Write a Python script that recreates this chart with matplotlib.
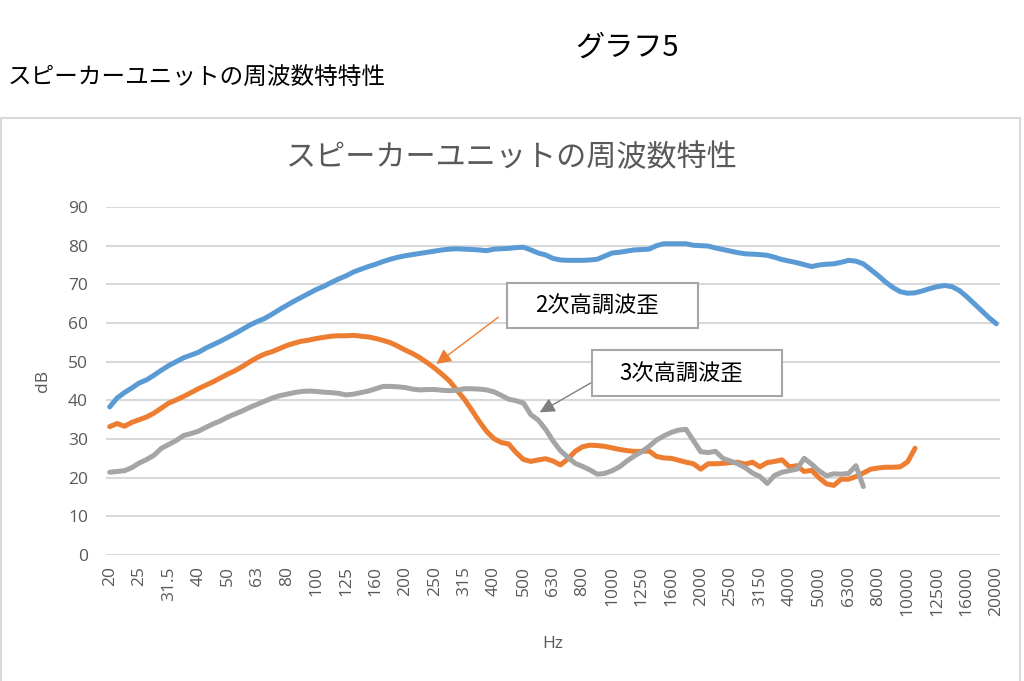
import numpy as np
import matplotlib
matplotlib.use("Agg")
import matplotlib.pyplot as plt
from matplotlib.patches import Rectangle

# 1/3 octave band labels shown on the category axis
freq_labels = ['20', '25', '31.5', '40', '50', '63', '80', '100', '125', '160',
               '200', '250', '315', '400', '500', '630', '800', '1000', '1250',
               '1600', '2000', '2500', '3150', '4000', '5000', '6300', '8000',
               '10000', '12500', '16000', '20000']
points_per_label = 4

# fundamental response (dB)
fundamental = [38.3, 40.6, 42.0, 43.2, 44.5, 45.3, 46.5, 47.8, 49.0, 50.0,
               51.0, 51.7, 52.4, 53.5, 54.4, 55.3, 56.3, 57.3, 58.4, 59.5,
               60.4, 61.2, 62.3, 63.5, 64.6, 65.7, 66.7, 67.7, 68.7, 69.5,
               70.5, 71.4, 72.2, 73.2, 73.9, 74.6, 75.2, 75.9, 76.5, 77.0,
               77.4, 77.7, 78.0, 78.3, 78.6, 78.9, 79.1, 79.2, 79.1, 79.0,
               78.9, 78.7, 79.1, 79.2, 79.3, 79.5, 79.6, 78.9, 78.1, 77.6,
               76.7, 76.3, 76.2, 76.2, 76.2, 76.3, 76.5, 77.3, 78.1, 78.3,
               78.6, 78.9, 79.0, 79.1, 80.0, 80.5, 80.5, 80.5, 80.5, 80.1,
               80.0, 79.9, 79.4, 79.0, 78.6, 78.2, 77.9, 77.8, 77.7, 77.5,
               77.0, 76.4, 76.0, 75.6, 75.1, 74.6, 75.0, 75.2, 75.3, 75.7,
               76.2, 76.0, 75.3, 73.8, 72.3, 70.6, 69.2, 68.1, 67.7, 67.8,
               68.3, 68.9, 69.4, 69.7, 69.4, 68.4, 66.8, 65.0, 63.2, 61.4,
               59.8]

# 2nd harmonic distortion (dB)
second_harm = [33.2, 34.0, 33.3, 34.3, 35.0, 35.7, 36.7, 38.0, 39.3, 40.1,
               41.0, 42.0, 43.0, 43.9, 44.8, 45.8, 46.8, 47.7, 48.8, 50.0,
               51.1, 52.0, 52.6, 53.4, 54.2, 54.8, 55.3, 55.6, 56.0, 56.3,
               56.6, 56.7, 56.7, 56.8, 56.6, 56.4, 56.0, 55.5, 54.9, 54.0,
               53.0, 52.1, 51.0, 49.7, 48.3, 46.7, 45.0, 42.6, 40.3, 37.5,
               34.6, 32.0, 30.1, 29.1, 28.7, 26.5, 24.7, 24.2, 24.6, 24.9,
               24.3, 23.3, 24.8, 26.8, 28.0, 28.4, 28.3, 28.1, 27.7, 27.3,
               27.0, 26.8, 26.8, 26.9, 25.5, 25.1, 25.0, 24.5, 24.0, 23.6,
               22.2, 23.6, 23.6, 23.7, 23.9, 24.0, 23.5, 24.0, 22.8, 23.9,
               24.2, 24.6, 22.8, 23.1, 21.6, 21.9, 20.0, 18.4, 18.0, 19.6,
               19.6, 20.3, 21.2, 22.2, 22.5, 22.7, 22.7, 22.8, 24.1, 27.6]

# 3rd harmonic distortion (dB)
third_harm = [21.4, 21.6, 21.8, 22.6, 23.8, 24.7, 25.8, 27.6, 28.6, 29.6,
              30.9, 31.4, 32.0, 33.0, 33.9, 34.7, 35.7, 36.5, 37.3, 38.2,
              39.0, 39.8, 40.6, 41.2, 41.6, 42.0, 42.3, 42.4, 42.3, 42.1,
              42.0, 41.8, 41.4, 41.6, 42.0, 42.4, 43.0, 43.6, 43.6, 43.5,
              43.3, 42.9, 42.7, 42.8, 42.8, 42.6, 42.5, 42.6, 43.0, 43.0,
              42.9, 42.7, 42.2, 41.3, 40.3, 39.9, 39.3, 36.3, 34.9, 32.5,
              29.5, 27.0, 25.3, 23.7, 22.9, 22.0, 20.9, 21.1, 21.8, 22.8,
              24.3, 25.6, 26.7, 28.1, 29.7, 30.8, 31.7, 32.3, 32.5, 29.6,
              26.7, 26.5, 26.8, 25.0, 24.3, 23.6, 22.6, 21.2, 20.3, 18.5,
              20.6, 21.4, 21.8, 22.2, 25.0, 23.5, 21.8, 20.5, 21.0, 20.9,
              21.1, 23.1, 17.7]

jp_font = ['Noto Sans CJK JP', 'DejaVu Sans']
num_font = ['Open Sans', 'DejaVu Sans']
grey_text = '#595959'

fig = plt.figure(figsize=(10.24, 6.81), dpi=100)
fig.patch.set_facecolor('white')

# outer chart frame (bottom edge is off the image)
fig.add_artist(Rectangle((0.001, -0.05), 0.995, 0.877, transform=fig.transFigure,
                         fill=False, edgecolor='#d9d9d9', linewidth=1.5))

# page texts above the chart
fig.text(627 / 1024, 1 - 48 / 681, 'グラフ5', family=jp_font, fontsize=21,
         ha='center', va='center', color='black')
fig.text(8 / 1024, 1 - 78 / 681, 'スピーカーユニットの周波数特特性', family=jp_font,
         fontsize=17, ha='left', va='center', color='black')
fig.text(512 / 1024, 1 - 158 / 681, 'スピーカーユニットの周波数特性', family=jp_font,
         fontsize=21.7, ha='center', va='center', color=grey_text)

ax = fig.add_axes([106 / 1024, 1 - 555 / 681, 894 / 1024, 348 / 681])

ax.plot(np.arange(len(fundamental)), fundamental, color='#5B9BD5', lw=3.6,
        solid_capstyle='round', solid_joinstyle='round')
ax.plot(np.arange(len(second_harm)), second_harm, color='#ED7D31', lw=3.6,
        solid_capstyle='round', solid_joinstyle='round')
ax.plot(np.arange(len(third_harm)), third_harm, color='#A5A5A5', lw=3.6,
        solid_capstyle='round', solid_joinstyle='round')

n_points = (len(freq_labels) - 1) * points_per_label + 1
ax.set_xlim(-0.5, n_points - 0.5)
ax.set_ylim(0, 90)
ax.set_yticks(np.arange(0, 91, 10))
ax.set_xticks(np.arange(len(freq_labels)) * points_per_label)
ax.set_xticklabels(freq_labels, rotation=90, va='top', ha='center')

for lbl in ax.get_xticklabels() + ax.get_yticklabels():
    lbl.set_family(num_font)
    lbl.set_fontsize(12.5)
    lbl.set_color(grey_text)
ax.tick_params(axis='both', length=0)
ax.tick_params(axis='y', pad=13)
ax.tick_params(axis='x', pad=8)

ax.grid(axis='y', color='#d9d9d9', lw=1.5)
ax.set_axisbelow(True)
for s in ax.spines.values():
    s.set_visible(False)

ax.set_xlabel('Hz', family=num_font, fontsize=12.5, color=grey_text, labelpad=14)
ax.set_ylabel('dB', family=num_font, fontsize=12.5, color=grey_text, labelpad=12)

# callout boxes with arrows
def callout(text, box_px, tail, head, color):
    x0, y0, w, h = box_px
    fig.add_artist(Rectangle((x0 / 1024, 1 - (y0 + h) / 681), w / 1024, h / 681,
                             transform=fig.transFigure, facecolor='white',
                             edgecolor='#a6a6a6', linewidth=1.5, zorder=5))
    fig.text((x0 + w / 2 - 6) / 1024, 1 - (y0 + h / 2) / 681, text, family=jp_font,
             fontsize=16, ha='center', va='center', color='black', zorder=6)
    ax.annotate('', xy=head, xytext=tail,
                arrowprops=dict(arrowstyle='-|>,head_length=0.9,head_width=0.45',
                                color=color, lw=1.0, shrinkA=0, shrinkB=0))

callout('2次高調波歪', (507, 283, 191, 45), (52.6, 61.5), (44.2, 49.4), '#ED7D31')
callout('3次高調波歪', (592, 350, 190, 46), (65.3, 44.7), (58.2, 36.9), '#7f7f7f')

fig.savefig('out.png', dpi=100, facecolor='white')
